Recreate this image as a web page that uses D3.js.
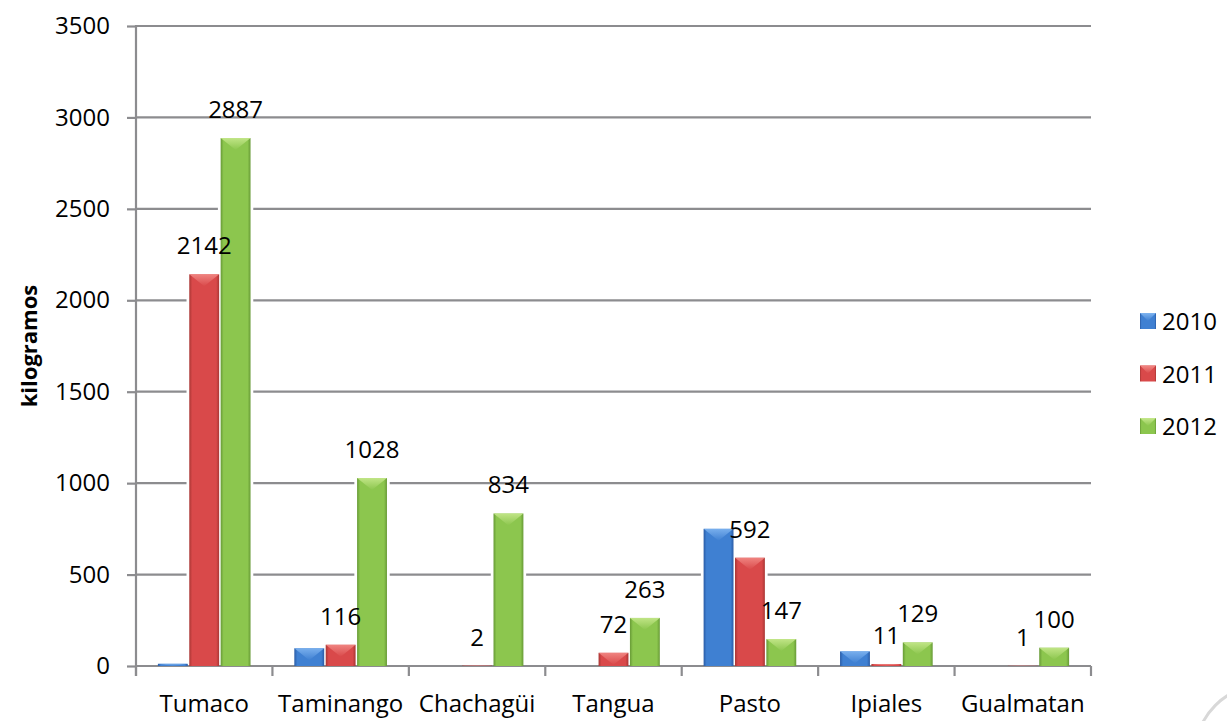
<!DOCTYPE html>
<html><head><meta charset="utf-8">
<script src="https://cdn.jsdelivr.net/npm/d3@7"></script>
<style>
html,body{margin:0;padding:0;background:#fff;}
svg{display:block;font-family:"Open Sans","Noto Sans",sans-serif;}
</style></head>
<body><svg id="c" width="1227" height="721"></svg>
<script>
const categories = ["Tumaco","Taminango","Chachagüi","Tangua","Pasto","Ipiales","Gualmatan"];
const seriesNames = ["2010","2011","2012"];
const values2010 = [12, 97, 0, 0, 750, 80, 0];
const values2011 = [2142, 116, 2, 72, 592, 11, 1];
const values2012 = [2887, 1028, 834, 263, 147, 129, 100];
const labeledSeries = ["2011","2012"];
const yTicks = [0,500,1000,1500,2000,2500,3000,3500];
const colors = {"2010":["#2a5ca6","#3f80d2","#7fb4f0"], "2011":["#a93634","#d9494a","#f28a86"], "2012":["#679a36","#8cc64e","#c6e88c"]};

const seriesData = {"2010":values2010,"2011":values2011,"2012":values2012};
const svg = d3.select("#c");
const L=136, R=1091, T=26, B=666;
const x0 = d3.scaleBand().domain(categories).range([L,R]).paddingInner(0.31).paddingOuter(0.155);
const x1 = d3.scaleBand().domain(seriesNames).range([0,x0.bandwidth()]);
const y = d3.scaleLinear().domain([0,3500]).range([B,T]);

const defs = svg.append("defs");
seriesNames.forEach(s=>{
  const g = defs.append("linearGradient").attr("id","g"+s).attr("x1","0").attr("x2","1").attr("y1","0").attr("y2","0");
  g.append("stop").attr("offset","0").attr("stop-color",colors[s][0]);
  g.append("stop").attr("offset","0.1").attr("stop-color",colors[s][1]);
  g.append("stop").attr("offset","0.5").attr("stop-color",colors[s][1]);
  g.append("stop").attr("offset","0.9").attr("stop-color",colors[s][1]);
  g.append("stop").attr("offset","1").attr("stop-color",colors[s][0]);
  const t = defs.append("linearGradient").attr("id","t"+s).attr("x1","0").attr("x2","0").attr("y1","0").attr("y2","1");
  t.append("stop").attr("offset","0").attr("stop-color",colors[s][2]);
  t.append("stop").attr("offset","1").attr("stop-color",colors[s][1]);
});

// gridlines
svg.append("g").selectAll("line").data(yTicks.filter(d=>d>0)).join("line")
  .attr("x1",L).attr("x2",R).attr("y1",d=>y(d)).attr("y2",d=>y(d))
  .attr("stroke","#8c8c8f").attr("stroke-width",2.2);

// y axis
const yAxis = d3.axisLeft(y).tickValues(yTicks).tickSize(9).tickPadding(17).tickFormat(d3.format("d"));
const ya = svg.append("g").attr("transform",`translate(${L},0)`).call(yAxis);
ya.select(".domain").remove();
ya.selectAll(".tick line").attr("stroke","#8c8c8f").attr("stroke-width",2.2);
ya.selectAll("text").attr("font-size",24).attr("fill","#000").attr("font-family","Open Sans");
svg.append("line").attr("x1",L).attr("x2",L).attr("y1",T-1).attr("y2",B+10).attr("stroke","#8c8c8f").attr("stroke-width",2.2);

const flat = [];
categories.forEach((c,i)=>seriesNames.forEach(s=>flat.push({c,s,v:seriesData[s][i]})));

// halos
svg.append("g").selectAll("rect").data(flat.filter(d=>d.v>0)).join("rect")
  .attr("x",d=>x0(d.c)+x1(d.s)-2).attr("width",x1.bandwidth()+4)
  .attr("y",d=>y(d.v)-2).attr("height",d=>B-y(d.v)+1)
  .attr("fill","#fff");

// x axis
svg.append("line").attr("x1",L).attr("x2",R).attr("y1",B).attr("y2",B).attr("stroke","#8c8c8f").attr("stroke-width",2.2);
const step = x0.step();
svg.append("g").selectAll("line").data(d3.range(categories.length+1)).join("line")
  .attr("x1",i=>L+i*step).attr("x2",i=>L+i*step).attr("y1",B).attr("y2",B+10)
  .attr("stroke","#8c8c8f").attr("stroke-width",2.2);
svg.append("g").selectAll("text").data(categories).join("text")
  .attr("x",d=>x0(d)+x0.bandwidth()/2).attr("y",712).attr("text-anchor","middle")
  .attr("font-size",24).attr("fill","#000").text(d=>d);

// bars
const bars = svg.append("g").selectAll("g").data(flat.filter(d=>d.v>0)).join("g");
const bx = d=>x0(d.c)+x1(d.s)+0.75, bw = ()=>x1.bandwidth()-1.5;
bars.append("rect")
  .attr("x",bx).attr("width",bw)
  .attr("y",d=>y(d.v)).attr("height",d=>B-y(d.v))
  .attr("fill",d=>`url(#g${d.s})`);
bars.append("path")
  .attr("d",d=>{
    const xa=bx(d), w=bw(), ya0=y(d.v), h=B-y(d.v);
    const b=Math.min(12,h);
    return `M${xa},${ya0}L${xa+w},${ya0}L${xa+w/2},${ya0+b}Z`;
  })
  .attr("fill",d=>`url(#t${d.s})`).attr("opacity",0.9);

// data labels
svg.append("g").selectAll("text").data(flat.filter(d=>labeledSeries.includes(d.s))).join("text")
  .attr("x",d=>bx(d)+bw()/2).attr("y",d=>y(d.v)-20)
  .attr("text-anchor","middle").attr("font-size",24).attr("fill","#000").text(d=>d.v);

// y title
svg.append("text").attr("transform","translate(37,346) rotate(-90)").attr("text-anchor","middle")
  .attr("font-size",22).attr("font-weight","bold").attr("fill","#000").text("kilogramos");

// legend
const leg = svg.append("g").selectAll("g").data(seriesNames).join("g")
  .attr("transform",(d,i)=>`translate(1140,${313+i*52.5})`);
leg.append("rect").attr("width",16).attr("height",16).attr("fill",d=>`url(#g${d})`);
leg.append("path").attr("d","M0,0L16,0L8,8Z").attr("fill",d=>`url(#t${d})`);
leg.append("text").attr("x",22).attr("y",17).attr("font-size",24).attr("fill","#000").text(d=>d);

// corner artifact
svg.append("circle").attr("cx",1262).attr("cy",752).attr("r",66).attr("fill","#fff").attr("stroke","#d8d8d8").attr("stroke-width",3);
</script></body></html>
